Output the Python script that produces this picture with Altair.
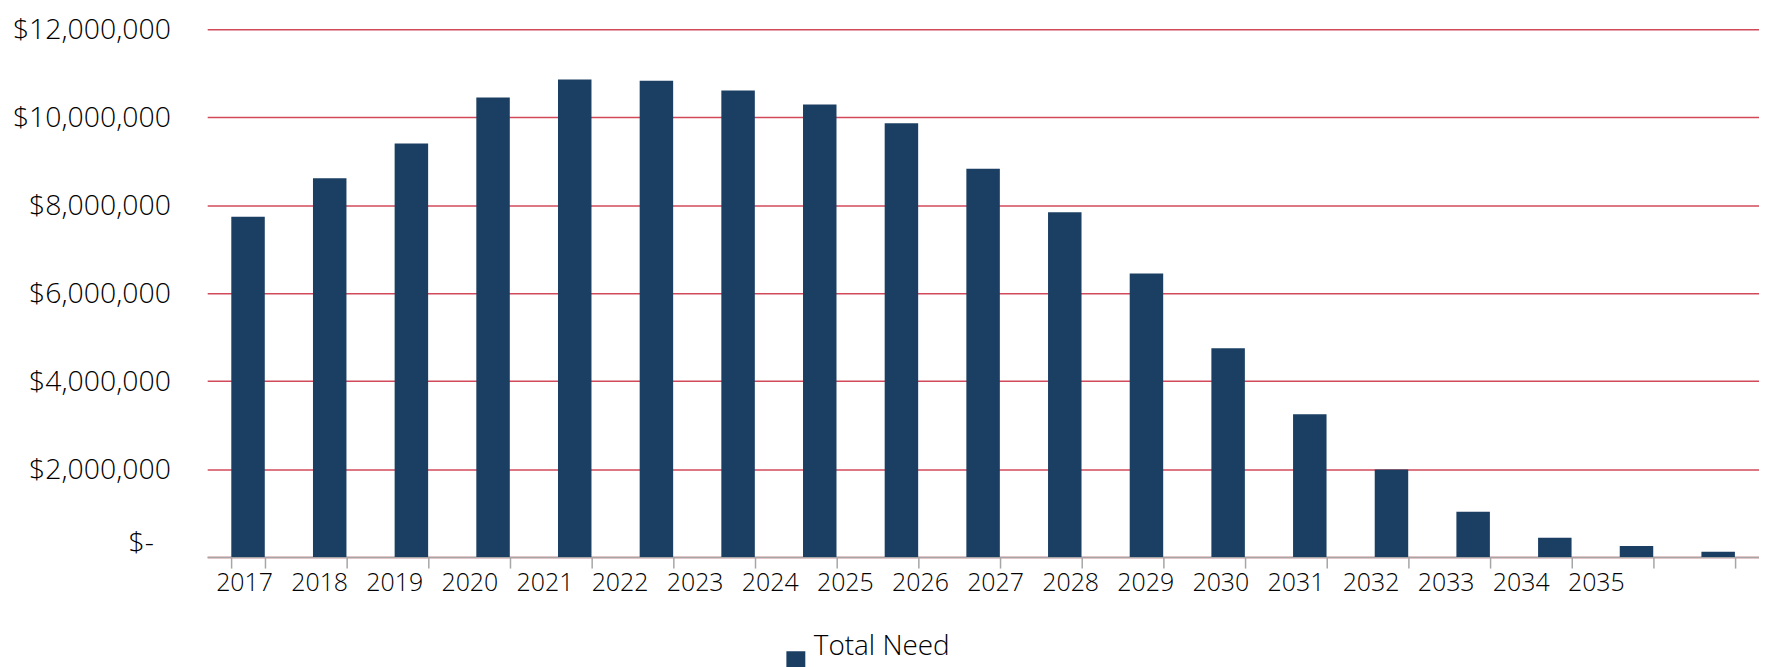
import altair as alt
import pandas as pd

years = [str(y) for y in range(2017, 2036)]
total_need = [7.74e6, 8.61e6, 9.40e6, 10.45e6, 10.86e6, 10.83e6, 10.61e6, 10.29e6,
              9.86e6, 8.83e6, 7.84e6, 6.45e6, 4.75e6, 3.25e6, 1.99e6, 1.03e6,
              0.44e6, 0.25e6, 0.12e6]
series = ["Total Need"] * len(years)
y_ticks = [0, 2e6, 4e6, 6e6, 8e6, 10e6, 12e6]

df = pd.DataFrame({"year": years, "value": total_need, "series": series})

FONT = "Open Sans"
BAR = "#1B3F63"
TXT = "#000000"

chart = alt.Chart(df).mark_bar(color=BAR).encode(
    x=alt.X("year:N", sort=years, title=None,
            scale=alt.Scale(paddingInner=0.59, paddingOuter=0.295),
            axis=alt.Axis(labelAngle=0, tickBand="extent", grid=False,
                          domainColor="#A6A6A6", domainWidth=1.5,
                          tickColor="#A6A6A6", tickWidth=1.5, tickSize=11,
                          labelPadding=3, labelFont=FONT, labelFontSize=25,
                          labelFontWeight=300, labelColor=TXT,
                          labelOffset={"expr": "-4 - 6.6*(toNumber(datum.value)-2017)"})),
    y=alt.Y("value:Q", title=None,
            scale=alt.Scale(domain=[0, 12e6], nice=False),
            axis=alt.Axis(values=y_ticks, domain=False, ticks=False,
                          labelPadding={"expr": "datum.value == 0 ? 54 : 37"},
                          labelBaseline={"expr": "datum.value == 0 ? 'bottom' : 'middle'"},
                          labelFont=FONT, labelFontSize=28.5,
                          labelFontWeight=300, labelColor=TXT,
                          labelExpr="datum.value == 0 ? '$-' : format(datum.value, '$,.0f')",
                          gridColor="#D24A5A", gridWidth=1.5)),
    color=alt.Color("series:N", scale=alt.Scale(range=[BAR]),
                    legend=alt.Legend(title=None, orient="none", legendX=577, legendY=620,
                                      symbolType="square", symbolSize=361,
                                      symbolStrokeWidth=0, padding=0,
                                      labelFont=FONT, labelFontSize=28,
                                      labelFontWeight=300, labelColor=TXT,
                                      labelBaseline="bottom", labelOffset=4)),
).properties(
    width=1558, height=530,
    autosize="none",
    background="white",
    padding={"left": 200, "top": 20, "right": 0, "bottom": 109},
).configure_view(stroke="transparent", strokeWidth=0)

chart.save("out.html", embed_options={"renderer": "svg", "actions": False})
